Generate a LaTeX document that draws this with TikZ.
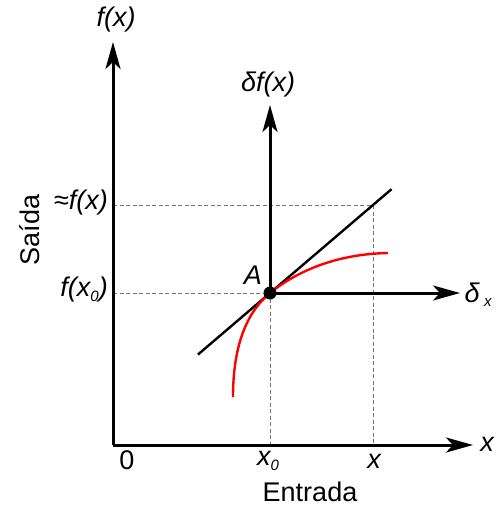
\documentclass[tikz,border=0pt]{standalone}
\usepackage{fontspec}
\setmainfont{Liberation Sans}
\usepackage{tikz}
\usetikzlibrary{arrows.meta, calc}
\colorlet{mygray}{black!55}
\colorlet{myred}{red}
\newcommand{\lowsub}[1]{\raisebox{-0.3ex}{\fontsize{15}{15}\selectfont #1}}

\begin{document}
\begin{tikzpicture}[x=1pt, y=-1pt, >={Stealth[length=27pt, width=15pt, inset=7pt]},
    font=\fontsize{27}{29}\selectfont,
    axis/.style={line width=3pt},
    guide/.style={mygray, dashed, line width=0.8pt, dash pattern=on 4pt off 2.5pt},
    lbl/.style={font=\fontsize{27}{29}\selectfont\itshape, inner sep=1pt}]
    \useasboundingbox (0,0) rectangle (496,506);
    % points
    \coordinate (O) at (113,445);
    \coordinate (A) at (270,293);
    \coordinate (P) at (373,205);
    \coordinate (ytip) at (113,42);
    \coordinate (xtip) at (473,445);
    \coordinate (dftip) at (270,105);
    \coordinate (dxtip) at (460,293);
    \coordinate (cstart) at (233,397);
    \coordinate (cend) at (388,253);
    % labels
    \node[lbl] (fx) at (116,20) {f(x)};
    \node[lbl] (xlab) at (487,444) {x};
    \node[lbl] (dfx) at (268,85) {δf(x)};
    \node[lbl] (dx) at (478,295) {δ\,\lowsub{x}};
    \node[lbl, anchor=east] (approx) at (109,203) {≈f(x)};
    \node[lbl, anchor=east] (fx0) at (109,290) {f(x\lowsub{0})};
    \node[lbl] (alab) at (253,275) {A};
    \node[inner sep=1pt] (zero) at (127,460) {0};
    \node[lbl] (x0lab) at (268,461) {x\lowsub{0}};
    \node[lbl] (xval) at (374,461) {x};
    \node[inner sep=1pt] (entrada) at (310,492) {Entrada};
    \node[rotate=90, inner sep=1pt] (saida) at (30,230) {Saída};
    % guides
    \draw[guide] (O |- A) -- (A) -- (A |- O);
    \draw[guide] (O |- P) -- (P) -- (P |- O);
    % tangent and curve
    \draw[line width=2.4pt] ($(A)!-0.7!(P)$) -- ($(A)!1.18!(P)$);
    \draw[myred, line width=2.4pt] (cstart) .. controls (233,345) and (247,312) .. (A)
        .. controls (296,272) and (335,254) .. (cend);
    % axes
    \draw[axis, ->] (O) -- (ytip);
    \draw[axis, ->] (O) -- (xtip);
    \draw[axis, ->] (A) -- (dftip);
    \draw[axis, ->] (A) -- (dxtip);
    \fill (A) circle (6.5);
\end{tikzpicture}
\end{document}
